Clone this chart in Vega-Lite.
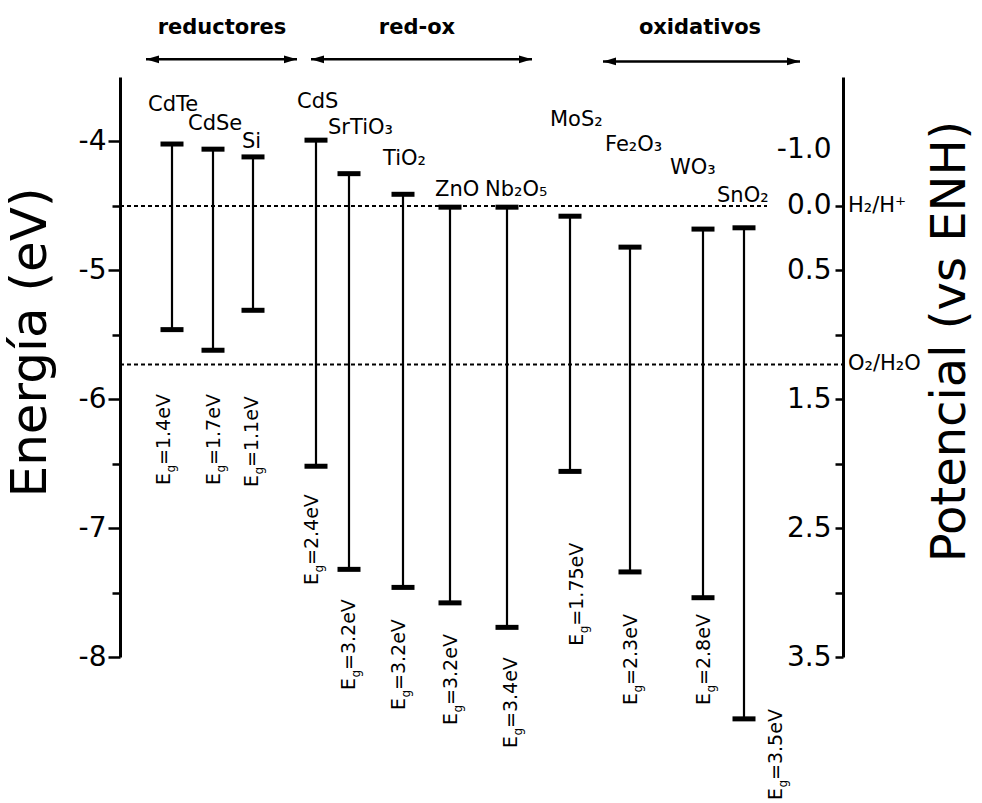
{
  "$schema": "https://vega.github.io/schema/vega-lite/v6.json",
  "width": 723,
  "height": 580,
  "autosize": {"type": "none"},
  "padding": {"left": 120, "top": 77, "right": 139, "bottom": 146},
  "background": "white",
  "config": {"font": "DejaVu Sans", "view": {"stroke": null}, "text": {"font": "DejaVu Sans", "color": "black"}},
  "datasets": {
    "mat": [
      {"m": "CdTe", "x": 52, "cb": -4.02, "vb": -5.46, "nx": 28, "ny": -3.767, "egx": 50, "egy": -6.665, "eg": "=1.4eV"},
      {"m": "CdSe", "x": 93, "cb": -4.06, "vb": -5.62, "nx": 68, "ny": -3.915, "egx": 100, "egy": -6.665, "eg": "=1.7eV"},
      {"m": "Si", "x": 133, "cb": -4.12, "vb": -5.31, "nx": 122, "ny": -4.047, "egx": 138, "egy": -6.681, "eg": "=1.1eV"},
      {"m": "CdS", "x": 196, "cb": -3.99, "vb": -6.52, "nx": 177, "ny": -3.744, "egx": 198, "egy": -7.441, "eg": "=2.4eV"},
      {"m": "SrTiO₃", "x": 229, "cb": -4.25, "vb": -7.32, "nx": 208, "ny": -3.946, "egx": 235, "egy": -8.256, "eg": "=3.2eV"},
      {"m": "TiO₂", "x": 283, "cb": -4.41, "vb": -7.46, "nx": 263, "ny": -4.179, "egx": 285, "egy": -8.411, "eg": "=3.2eV"},
      {"m": "ZnO", "x": 330, "cb": -4.51, "vb": -7.58, "nx": 315, "ny": -4.427, "egx": 337, "egy": -8.527, "eg": "=3.2eV"},
      {"m": "Nb₂O₅", "x": 387, "cb": -4.51, "vb": -7.77, "nx": 365, "ny": -4.427, "egx": 397, "egy": -8.706, "eg": "=3.4eV"},
      {"m": "MoS₂", "x": 450, "cb": -4.58, "vb": -6.56, "nx": 430, "ny": -3.883, "egx": 463, "egy": -7.912, "eg": "=1.75eV"},
      {"m": "Fe₂O₃", "x": 510, "cb": -4.82, "vb": -7.34, "nx": 485, "ny": -4.078, "egx": 517, "egy": -8.372, "eg": "=2.3eV"},
      {"m": "WO₃", "x": 583, "cb": -4.68, "vb": -7.54, "nx": 550, "ny": -4.256, "egx": 590, "egy": -8.372, "eg": "=2.8eV"},
      {"m": "SnO₂", "x": 624, "cb": -4.67, "vb": -8.48, "nx": 597, "ny": -4.466, "egx": 662, "egy": -9.109, "eg": "=3.5eV"}
    ],
    "redox": [
      {"lab": "H₂/H⁺", "y": -4.5, "x1": 0, "x2": 647},
      {"lab": "O₂/H₂O", "y": -5.73, "x1": 0, "x2": 723}
    ],
    "groups": [
      {"g": "reductores", "x1": 26, "x2": 177, "y": -3.363, "tx": 102, "ty": -3.169},
      {"g": "red-ox", "x1": 191, "x2": 412, "y": -3.363, "tx": 297, "ty": -3.169},
      {"g": "oxidativos", "x1": 483, "x2": 680, "y": -3.379, "tx": 580, "ty": -3.169}
    ]
  },
  "layer": [
    {
      "data": {"name": "mat"},
      "mark": {"type": "rule", "strokeWidth": 2.2, "color": "black"},
      "encoding": {
        "x": {"field": "x", "type": "quantitative", "scale": {"domain": [0, 723], "nice": false, "zero": false}, "axis": null},
        "y": {
          "field": "cb", "type": "quantitative",
          "scale": {"domain": [-8, -3.5], "nice": false, "zero": false},
          "axis": {
            "orient": "left", "title": "Energía (eV)",
            "values": [-8, -7.5, -7, -6.5, -6, -5.5, -5, -4.5, -4],
            "labelExpr": "datum.value % 1 === 0 ? '' + datum.value : ''",
            "grid": false, "domainWidth": 3, "domainColor": "black",
            "tickColor": "black", "tickWidth": 2.5,
            "tickSize": {"condition": {"test": "datum.value % 1 === 0", "value": 12}, "value": 8},
            "labelFontSize": 28, "labelColor": "black", "labelPadding": 2,
            "labelFlush": false, "labelOverlap": false, "labelBound": false,
            "titleFontSize": 50, "titleFontWeight": "normal", "titleColor": "black",
            "titleX": -90, "titleY": 265, "titleAngle": 270, "titleAlign": "center", "titleBaseline": "middle"
          }
        },
        "y2": {"field": "vb"}
      }
    },
    {
      "data": {"name": "mat"},
      "mark": {"type": "tick", "orient": "horizontal", "size": 23, "thickness": 5, "color": "black", "opacity": 1},
      "encoding": {
        "x": {"field": "x", "type": "quantitative", "scale": {"domain": [0, 723], "nice": false, "zero": false}, "axis": null},
        "y": {
          "field": "cb", "type": "quantitative",
          "scale": {"domain": [-8, -3.5], "nice": false, "zero": false},
          "axis": {
            "orient": "right", "title": "Potencial (vs ENH)",
            "values": [-8, -7.5, -7, -6.5, -6, -5.5, -5, -4.5, -4],
            "labelExpr": "datum.value === -4 ? '-1.0' : datum.value === -4.5 ? '0.0' : datum.value === -5 ? '0.5' : datum.value === -6 ? '1.5' : datum.value === -7 ? '2.5' : datum.value === -8 ? '3.5' : ''",
            "grid": false, "domainWidth": 3, "domainColor": "black",
            "tickColor": "black", "tickWidth": 2.5, "tickSize": -8,
            "tickOpacity": {"condition": {"test": "datum.value === -4", "value": 0}, "value": 1},
            "labelOffset": {"condition": {"test": "datum.value === -4", "value": 8}, "value": 0},
            "labelFontSize": 28, "labelColor": "black", "labelPadding": -4, "labelAlign": "right",
            "labelFlush": false, "labelOverlap": false, "labelBound": false,
            "titleFontSize": 48, "titleFontWeight": "normal", "titleColor": "black",
            "titleX": 107, "titleY": 264, "titleAngle": 270, "titleAlign": "center", "titleBaseline": "middle"
          }
        }
      }
    },
    {
      "data": {"name": "mat"},
      "mark": {"type": "tick", "orient": "horizontal", "size": 23, "thickness": 5, "color": "black", "opacity": 1},
      "encoding": {
        "x": {"field": "x", "type": "quantitative", "scale": {"domain": [0, 723], "nice": false, "zero": false}, "axis": null},
        "y": {"field": "vb", "type": "quantitative", "scale": {"domain": [-8, -3.5], "nice": false, "zero": false}, "axis": null}
      }
    },
    {
      "data": {"name": "redox"},
      "mark": {"type": "rule", "strokeWidth": 2, "strokeDash": [4, 3], "color": "black"},
      "encoding": {
        "x": {"field": "x1", "type": "quantitative", "scale": {"domain": [0, 723], "nice": false, "zero": false}, "axis": null},
        "x2": {"field": "x2"},
        "y": {"field": "y", "type": "quantitative", "scale": {"domain": [-8, -3.5], "nice": false, "zero": false}, "axis": null}
      }
    },
    {
      "data": {"name": "redox"},
      "mark": {"type": "text", "fontSize": 21, "align": "left", "baseline": "middle", "color": "black"},
      "encoding": {
        "x": {"datum": 728, "type": "quantitative", "scale": {"domain": [0, 723], "nice": false, "zero": false}, "axis": null},
        "y": {"field": "y", "type": "quantitative", "scale": {"domain": [-8, -3.5], "nice": false, "zero": false}, "axis": null},
        "text": {"field": "lab"}
      }
    },
    {
      "data": {"name": "mat"},
      "mark": {"type": "text", "fontSize": 21, "align": "left", "baseline": "alphabetic", "color": "black"},
      "encoding": {
        "x": {"field": "nx", "type": "quantitative", "scale": {"domain": [0, 723], "nice": false, "zero": false}, "axis": null},
        "y": {"field": "ny", "type": "quantitative", "scale": {"domain": [-8, -3.5], "nice": false, "zero": false}, "axis": null},
        "text": {"field": "m"}
      }
    },
    {
      "data": {"name": "mat"},
      "mark": {"type": "text", "fontSize": 19, "align": "left", "baseline": "alphabetic", "angle": 270, "color": "black"},
      "encoding": {
        "x": {"field": "egx", "type": "quantitative", "scale": {"domain": [0, 723], "nice": false, "zero": false}, "axis": null},
        "y": {"field": "egy", "type": "quantitative", "scale": {"domain": [-8, -3.5], "nice": false, "zero": false}, "axis": null},
        "text": {"value": "E"}
      }
    },
    {
      "data": {"name": "mat"},
      "mark": {"type": "text", "fontSize": 12, "align": "left", "baseline": "alphabetic", "angle": 270, "dx": 12.5, "dy": 5, "color": "black"},
      "encoding": {
        "x": {"field": "egx", "type": "quantitative", "scale": {"domain": [0, 723], "nice": false, "zero": false}, "axis": null},
        "y": {"field": "egy", "type": "quantitative", "scale": {"domain": [-8, -3.5], "nice": false, "zero": false}, "axis": null},
        "text": {"value": "g"}
      }
    },
    {
      "data": {"name": "mat"},
      "mark": {"type": "text", "fontSize": 19, "align": "left", "baseline": "alphabetic", "angle": 270, "dx": 20, "color": "black"},
      "encoding": {
        "x": {"field": "egx", "type": "quantitative", "scale": {"domain": [0, 723], "nice": false, "zero": false}, "axis": null},
        "y": {"field": "egy", "type": "quantitative", "scale": {"domain": [-8, -3.5], "nice": false, "zero": false}, "axis": null},
        "text": {"field": "eg"}
      }
    },
    {
      "data": {"name": "groups"},
      "mark": {"type": "rule", "strokeWidth": 2.5, "color": "black"},
      "encoding": {
        "x": {"field": "x1", "type": "quantitative", "scale": {"domain": [0, 723], "nice": false, "zero": false}, "axis": null},
        "x2": {"field": "x2"},
        "y": {"field": "y", "type": "quantitative", "scale": {"domain": [-8, -3.5], "nice": false, "zero": false}, "axis": null}
      }
    },
    {
      "data": {"name": "groups"},
      "transform": [{"fold": ["x1", "x2"], "as": ["end", "xe"]}],
      "mark": {"type": "point", "filled": true, "size": 169, "color": "black", "opacity": 1, "strokeWidth": 0},
      "encoding": {
        "x": {"field": "xe", "type": "quantitative", "scale": {"domain": [0, 723], "nice": false, "zero": false}, "axis": null},
        "y": {"field": "y", "type": "quantitative", "scale": {"domain": [-8, -3.5], "nice": false, "zero": false}, "axis": null},
        "shape": {"field": "end", "type": "nominal", "scale": {"domain": ["x1", "x2"], "range": ["M 0 0 L 2 -0.6 L 2 0.6 Z", "M 0 0 L -2 -0.6 L -2 0.6 Z"]}, "legend": null}
      }
    },
    {
      "data": {"name": "groups"},
      "mark": {"type": "text", "fontSize": 21, "fontWeight": "bold", "align": "center", "baseline": "alphabetic", "color": "black"},
      "encoding": {
        "x": {"field": "tx", "type": "quantitative", "scale": {"domain": [0, 723], "nice": false, "zero": false}, "axis": null},
        "y": {"field": "ty", "type": "quantitative", "scale": {"domain": [-8, -3.5], "nice": false, "zero": false}, "axis": null},
        "text": {"field": "g"}
      }
    }
  ],
  "resolve": {"axis": {"y": "independent"}}
}
